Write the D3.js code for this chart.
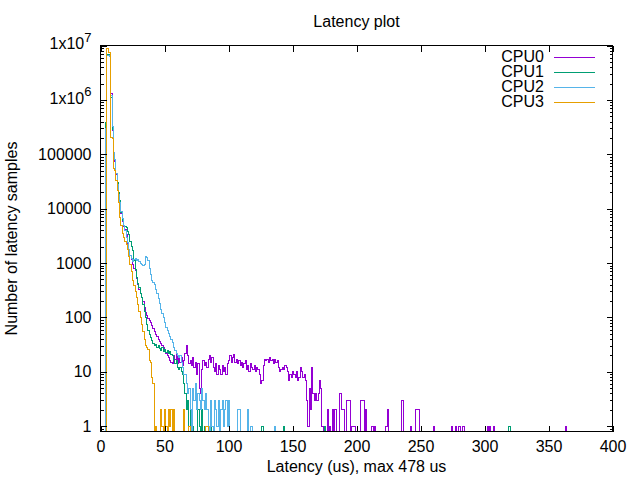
<!DOCTYPE html>
<html><head><meta charset="utf-8">
<script src="https://cdn.jsdelivr.net/npm/d3@7"></script>
<style>
body{margin:0;background:#fff}
svg text{font-family:"Liberation Sans",Arial,sans-serif;font-size:16px;fill:#000}
</style>
</head><body><svg id="c" width="640" height="480"></svg>
<script>
// ---------------- data ----------------
const chartTitle = "Latency plot";
const xLabel = "Latency (us), max 478 us";
const yLabel = "Number of latency samples";
const seriesNames = ["CPU0", "CPU1", "CPU2", "CPU3"];
const seriesColors = ["#9400d3", "#009e73", "#56b4e9", "#e69f00"];
const xDomain = [0, 400];
const yDomain = [0.8, 1e7];
const xTicks = [0, 50, 100, 150, 200, 250, 300, 350, 400];
const yTicks = [1, 10, 100, 1000, 10000, 100000, 1000000, 10000000];
const yTickLabels = ["1", "10", "100", "1000", "10000", "100000", "1x10^6", "1x10^7"];
const yMinorTicks = [0.9, 2,3,4,5,6,7,8,9, 20,30,40,50,60,70,80,90,
  200,300,400,500,600,700,800,900, 2000,3000,4000,5000,6000,7000,8000,9000,
  20000,30000,40000,50000,60000,70000,80000,90000,
  200000,300000,400000,500000,600000,700000,800000,900000,
  2000000,3000000,4000000,5000000,6000000,7000000,8000000,9000000];

// histogram counts per 1 us bin, starting at 0 us (dense part)
const cpu0Counts = [0,0,0,0,350000,6900000,6800000,6600000,1300000,270000,
  100000,75000,43000,29000,19000,13000,8000,5800,4700,4200,
  3300,2100,1800,1400,1150,950,800,720,520,400,
  330,270,230,200,150,125,110,95,88,80,
  70,62,55,48,44,40,36,33,30,28,
  24,22,20,18,16,15,14,20,17,22,
  14,19,15,18,13,16,22,31,20,14,
  16,13,18,12,15,9,14,5,4,11,
  16,13,15,12,17,20,15,18,12,10,
  14,9,13,11,9,13,10,12,9,14,
  16,20,15,18,21,15,17,14,16,13,
  15,12,14,16,11,13,10,14,12,11,
  13,10,12,11,9,6,7,13,17,16,
  17,15,18,16,17,14,17,15,16,12,
  10,11,12,11,13,12,10,7,9,8,
  10,9,8,10,7,8,12,10,8,9,
  7,3,1,5,2,12,4,3,4,3,
  4,7,5,1,0];
// sparse tail: [latency us, count]
const cpu0Tail = [[177,2],[179,1],[181,2],[183,2],[187,4],[188,2],[189,2],[190,2],
  [192,3],[193,3],[194,3],[196,1],[197,1],[198,1],[203,3],[204,3],[205,3],[207,2],
  [212,1],[214,1],[223,1],[224,2],[235,3],[236,3],[242,1],[246,2],[247,2],[248,2],
  [260,1],[274,1],[277,1],[280,1],[283,1],[302,1],[304,1],[307,1],[363,1]];

const cpu1Counts = [0,0,0,0,380000,6900000,6800000,6700000,1100000,280000,
  100000,80000,45000,30000,20000,14000,8500,6000,5000,4700,
  4500,3800,3400,2500,2000,1700,1100,750,550,420,
  360,280,230,170,130,100,75,58,48,42,
  38,33,30,32,28,30,27,25,28,24,
  26,23,25,22,24,21,20,17,14,16,
  12,11,12,10,9,6,4,2,3,1,
  2,0,1,0,0,0,2,1,0,2,
  0,1,0,0,0,1,1];
const cpu1Tail = [[126,1],[143,1],[175,1],[319,1]];

const cpu2Counts = [0,0,0,0,300000,6600000,6500000,6400000,1200000,320000,
  110000,80000,45000,28000,18000,13000,9000,6500,5000,4000,
  3000,2400,1800,1400,1200,1050,1150,1200,1100,1150,
  1050,1000,950,900,950,1300,1250,1100,800,620,
  480,440,400,330,270,220,180,140,120,100,
  80,65,58,50,45,40,34,28,25,22,
  20,18,20,15,12,9,9,6,4,5,
  2,0,5,3,6,2,4,3,2,5,
  3,2,4,2,1,0,3,1,0,3,
  2,1,3,0,2,3,1,2,3,1,
  3,0,0,0,0,0,0,2,2,0,
  0,0,0,0,0,2,0,1,1];
const cpu2Tail = [[136,1]];

const cpu3Counts = [0,0,0,0,0,8800000,7400000,7300000,200000,195000,
  55000,50000,33000,22000,13000,7000,5000,3500,2900,2500,
  2200,1800,1300,950,700,480,380,300,230,170,
  130,100,75,55,40,30,28,26,16,15,
  8,6,0,1,0,0,0,2,1,0,
  2,1,0,2,1,2,0,2,0,0,
  0,0,0,0,0,2,0,0,0,1];
const cpu3Tail = [[82,1],[83,1]];

// ---------------- chart ----------------
const plotLeft = 100.5, plotRight = 612.5, plotTop = 45.5, plotBottom = 431.5;
const svg = d3.select("#c");
const x = d3.scaleLinear().domain(xDomain).range([plotLeft, plotRight]);
const y = d3.scaleLog().domain(yDomain).range([plotBottom, plotTop]);

function buildHist(counts, tail) {
  const a = new Array(xDomain[1] + 1).fill(0);
  counts.forEach((c, i) => { a[i] = c; });
  tail.forEach(([b, c]) => { a[b] = c; });
  return a.map((c, i) => ({us: i, count: c}));
}
const series = [
  buildHist(cpu0Counts, cpu0Tail),
  buildHist(cpu1Counts, cpu1Tail),
  buildHist(cpu2Counts, cpu2Tail),
  buildHist(cpu3Counts, cpu3Tail)
];

svg.append("defs").append("clipPath").attr("id", "plotclip")
  .append("rect").attr("x", plotLeft).attr("y", plotTop)
  .attr("width", plotRight - plotLeft).attr("height", plotBottom - plotTop);

const line = d3.line()
  .x(d => x(d.us))
  .y(d => d.count > 0 ? y(d.count) : plotBottom + 40)
  .curve(d3.curveStepAfter);

const gData = svg.append("g").attr("clip-path", "url(#plotclip)");
series.forEach((s, i) => {
  gData.append("path").datum(s)
    .attr("d", line)
    .attr("fill", "none")
    .attr("stroke", seriesColors[i])
    .attr("stroke-width", 1)
    .attr("shape-rendering", "crispEdges");
});

// axes
function styleAxis(g) {
  g.select(".domain").remove();
  g.selectAll("line").attr("stroke", "#000").attr("shape-rendering", "crispEdges");
  g.attr("font-size", null).attr("font-family", null);
  g.selectAll("text").attr("fill", "#000");
}
svg.append("g").attr("transform", `translate(0,${plotBottom})`)
  .call(d3.axisBottom(x).tickValues(xTicks).tickSizeInner(-6).tickSizeOuter(0).tickPadding(9))
  .call(styleAxis);
svg.append("g").attr("transform", `translate(0,${plotTop})`)
  .call(d3.axisTop(x).tickValues(xTicks).tickSizeInner(-6).tickSizeOuter(0).tickFormat(""))
  .call(styleAxis);

const gLeft = svg.append("g").attr("transform", `translate(${plotLeft},0)`)
  .call(d3.axisLeft(y).tickValues(yTicks).tickSizeInner(-6).tickSizeOuter(0).tickPadding(9)
    .tickFormat((d, i) => yTickLabels[i]))
  .call(styleAxis);
gLeft.selectAll(".tick text").each(function() {
  const t = d3.select(this);
  const s = t.text();
  if (s.indexOf("^") >= 0) {
    const [base, sup] = s.split("^");
    t.text(base).attr("y", -2);
    t.append("tspan").attr("dy", "-7.5").attr("font-size", "13px").text(sup);
  }
});
svg.append("g").attr("transform", `translate(${plotLeft},0)`)
  .call(d3.axisLeft(y).tickValues(yMinorTicks).tickSizeInner(-3).tickSizeOuter(0).tickFormat(""))
  .call(styleAxis);
svg.append("g").attr("transform", `translate(${plotRight},0)`)
  .call(d3.axisRight(y).tickValues(yTicks).tickSizeInner(-6).tickSizeOuter(0).tickFormat(""))
  .call(styleAxis);
svg.append("g").attr("transform", `translate(${plotRight},0)`)
  .call(d3.axisRight(y).tickValues(yMinorTicks).tickSizeInner(-3).tickSizeOuter(0).tickFormat(""))
  .call(styleAxis);

// frame
svg.append("rect").attr("x", plotLeft).attr("y", plotTop)
  .attr("width", plotRight - plotLeft).attr("height", plotBottom - plotTop)
  .attr("fill", "none").attr("stroke", "#000").attr("stroke-width", 1)
  .attr("shape-rendering", "crispEdges");

// titles
const cx = (plotLeft + plotRight) / 2;
svg.append("text").attr("x", cx).attr("y", 27).attr("text-anchor", "middle").text(chartTitle);
svg.append("text").attr("x", cx).attr("y", 472).attr("text-anchor", "middle").text(xLabel);
svg.append("text").attr("transform", `translate(17,${(plotTop + plotBottom) / 2}) rotate(-90)`)
  .attr("text-anchor", "middle").text(yLabel);

// legend
const legend = svg.append("g");
seriesNames.forEach((name, i) => {
  const ry = 57.5 + i * 15;
  legend.append("text").attr("x", 544).attr("y", ry + 4.5).attr("text-anchor", "end").text(name);
  legend.append("line").attr("x1", 554).attr("x2", 595).attr("y1", ry).attr("y2", ry)
    .attr("stroke", seriesColors[i]).attr("stroke-width", 1).attr("shape-rendering", "crispEdges");
});
</script>
</body></html>
